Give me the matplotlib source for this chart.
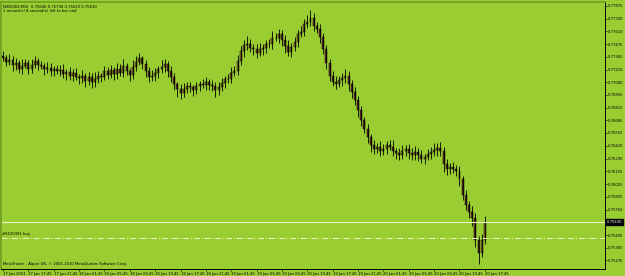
import matplotlib
matplotlib.use('Agg')
import numpy as np
import matplotlib.pyplot as plt
import matplotlib.transforms as mtransforms

# NZDUSD bars, close prices
closes = [
    0.77339, 0.77296, 0.77318, 0.77262, 0.77280, 0.77221, 0.77256, 0.77282, 0.77224, 0.77266,
    0.77300, 0.77262, 0.77248, 0.77220, 0.77228, 0.77198, 0.77222, 0.77194, 0.77212, 0.77168,
    0.77190, 0.77148, 0.77178, 0.77140, 0.77122, 0.77150, 0.77098, 0.77138, 0.77080, 0.77118,
    0.77150, 0.77140, 0.77196, 0.77162, 0.77210, 0.77170, 0.77222, 0.77182, 0.77246, 0.77200,
    0.77160, 0.77244, 0.77290, 0.77330, 0.77268, 0.77200, 0.77140, 0.77150, 0.77182, 0.77222,
    0.77240, 0.77272, 0.77200, 0.77140, 0.77060, 0.77012, 0.76975, 0.77010, 0.77040, 0.77028,
    0.77002, 0.77040, 0.77060, 0.77050, 0.77090, 0.77058, 0.77046, 0.77000, 0.77030, 0.77070,
    0.77112, 0.77120, 0.77178, 0.77204, 0.77300, 0.77402, 0.77470, 0.77480, 0.77436, 0.77430,
    0.77384, 0.77430, 0.77440, 0.77475, 0.77480, 0.77540, 0.77544, 0.77580, 0.77520, 0.77460,
    0.77400, 0.77452, 0.77500, 0.77580, 0.77608, 0.77690, 0.77712, 0.77748, 0.77670, 0.77640,
    0.77550, 0.77423, 0.77286, 0.77149, 0.77086, 0.77065, 0.77107, 0.77128, 0.77149, 0.77065,
    0.76980, 0.76896, 0.76790, 0.76685, 0.76600, 0.76516, 0.76432, 0.76389, 0.76411, 0.76368,
    0.76389, 0.76432, 0.76411, 0.76368, 0.76347, 0.76326, 0.76368, 0.76389, 0.76347, 0.76326,
    0.76358, 0.76326, 0.76284, 0.76305, 0.76337, 0.76358, 0.76379, 0.76400, 0.76368, 0.76231,
    0.76178, 0.76200, 0.76178, 0.76157, 0.76073, 0.75915, 0.75809, 0.75735, 0.75672, 0.75440,
    0.75313, 0.75440, 0.75630,
]
first_open = 0.77360
# wick lengths in pips above / below the body
upper_wick = [
    5, 3, 6, 4, 5, 3, 7, 4, 3, 6,
    5, 3, 4, 3, 6, 5, 3, 4, 5, 6,
    3, 5, 4, 5, 3, 6, 3, 5, 4, 7,
    5, 3, 6, 4, 5, 3, 6, 5, 8, 4,
    3, 7, 6, 6, 3, 5, 4, 6, 5, 3,
    7, 5, 3, 5, 4, 3, 5, 6, 4, 5,
    3, 5, 4, 6, 5, 3, 5, 4, 5, 6,
    4, 5, 6, 5, 7, 6, 5, 8, 5, 4,
    5, 6, 4, 5, 5, 7, 5, 6, 4, 5,
    6, 4, 5, 5, 6, 5, 7, 9, 5, 4,
    5, 4, 5, 4, 5, 6, 4, 5, 7, 5,
    4, 5, 4, 5, 4, 5, 3, 5, 4, 6,
    5, 4, 5, 7, 3, 5, 6, 4, 5, 5,
    6, 4, 5, 3, 5, 5, 7, 5, 6, 4,
    5, 4, 5, 4, 5, 4, 5, 4, 6, 5,
    4, 7, 6,
]
lower_wick = [
    4, 5, 3, 6, 5, 4, 5, 3, 6, 5,
    4, 5, 3, 6, 4, 5, 5, 3, 5, 4,
    6, 4, 5, 3, 6, 5, 7, 4, 6, 5,
    4, 5, 3, 5, 4, 6, 5, 3, 5, 4,
    6, 4, 5, 3, 5, 6, 5, 4, 5, 6,
    4, 5, 6, 5, 6, 8, 7, 5, 4, 5,
    6, 4, 5, 3, 5, 6, 5, 7, 5, 4,
    5, 4, 5, 3, 5, 4, 6, 5, 4, 6,
    5, 3, 6, 5, 4, 5, 3, 5, 6, 7,
    5, 6, 4, 5, 3, 5, 4, 5, 6, 5,
    6, 5, 7, 5, 4, 5, 3, 6, 5, 7,
    6, 5, 7, 6, 5, 6, 7, 5, 4, 5,
    4, 5, 3, 5, 6, 5, 4, 5, 6, 5,
    5, 6, 4, 5, 3, 5, 4, 6, 5, 8,
    6, 5, 4, 5, 7, 6, 5, 6, 8, 7,
    12, 5, 4,
]

x_labels = ['17 Jan 2011', '17 Jan 17:45', '17 Jan 21:45', '18 Jan 01:45', '18 Jan 05:45',
            '18 Jan 09:45', '18 Jan 13:45', '18 Jan 17:45', '18 Jan 21:45', '19 Jan 01:45',
            '19 Jan 05:45', '19 Jan 09:45', '19 Jan 13:45', '19 Jan 17:45', '19 Jan 21:45',
            '20 Jan 01:45', '20 Jan 05:45', '20 Jan 09:45', '20 Jan 13:45', '20 Jan 17:45']
y_ticks = [0.77875, 0.77740, 0.77610, 0.77475, 0.77345, 0.77210, 0.77080, 0.76950,
           0.76815, 0.76685, 0.76555, 0.76420, 0.76290, 0.76155, 0.76025, 0.75895,
           0.75760, 0.75495, 0.75365, 0.75235]
bid = 0.75630
order_price = 0.75462
title = 'NZDUSD,M15  0.75646 0.75730 0.75620 0.75630'
subtitle = '1 minute(s) 8 second(s) left to bar end'
order_label = '#5620391 buy'
footer = 'MetaTrader - Alpari UK, \u00a9 2001-2010 MetaQuotes Software Corp.'

bg = '#9acd32'
pip = 0.0001
fs = 2.7

opens = np.array([first_open] + closes[:-1])
c = np.array(closes)
hi = np.maximum(opens, c) + np.array(upper_wick) * pip
lo = np.minimum(opens, c) - np.array(lower_wick) * pip
x = np.arange(len(c))

fig = plt.figure(figsize=(6.25, 2.76), dpi=100, facecolor=bg)
ax = fig.add_axes([1/625, 7/276, 604/625, 267/276], facecolor=bg)

ax.vlines(x, lo, hi, color='black', lw=0.6)
body_col = np.where(c >= opens, '#8c6d2c', '#6b2a2a')
ax.bar(x, c - opens, bottom=opens, width=0.62, color=body_col,
       edgecolor='black', linewidth=0.35)

ax.axhline(bid, color='#eef6d0', lw=0.8)
ax.axhline(order_price, color='#eef6d0', lw=0.7, ls=(0, (6, 2, 1, 2)))

ax.set_xlim(-0.63, 189.9)
ax.set_ylim(0.75142, 0.77916)

ax.yaxis.tick_right()
ax.set_yticks(y_ticks)
ax.set_yticklabels([f'{v:.5f}' for v in y_ticks])
ax.set_xticks(np.arange(0, len(c), 8))
ax.set_xticklabels(x_labels, ha='left')
ax.tick_params(axis='both', labelsize=fs, length=1.5, width=0.5, pad=0.6, colors='black')

for s in ['top', 'left']:
    ax.spines[s].set_color('#6f9e22')
    ax.spines[s].set_linewidth(1.2)
for s in ['right', 'bottom']:
    ax.spines[s].set_color('black')
    ax.spines[s].set_linewidth(0.7)

tr = mtransforms.blended_transform_factory(ax.transAxes, ax.transData)
ax.text(1.003, bid, f'{bid:.5f}', transform=tr, fontsize=fs, color='white', va='center',
        ha='left', bbox=dict(boxstyle='square,pad=0.15', fc='black', ec='black'), clip_on=False)
ax.text(0.002, order_price + 2 * pip, order_label, transform=tr, fontsize=fs, color='black',
        va='bottom', ha='left')

ax.text(0.004, 0.99, title, transform=ax.transAxes, fontsize=fs, va='top', ha='left')
ax.text(0.004, 0.972, subtitle, transform=ax.transAxes, fontsize=fs, va='top', ha='left')
ax.text(0.004, 0.012, footer, transform=ax.transAxes, fontsize=fs, va='bottom', ha='left')

fig.savefig('out.png', dpi=100, facecolor=bg)
